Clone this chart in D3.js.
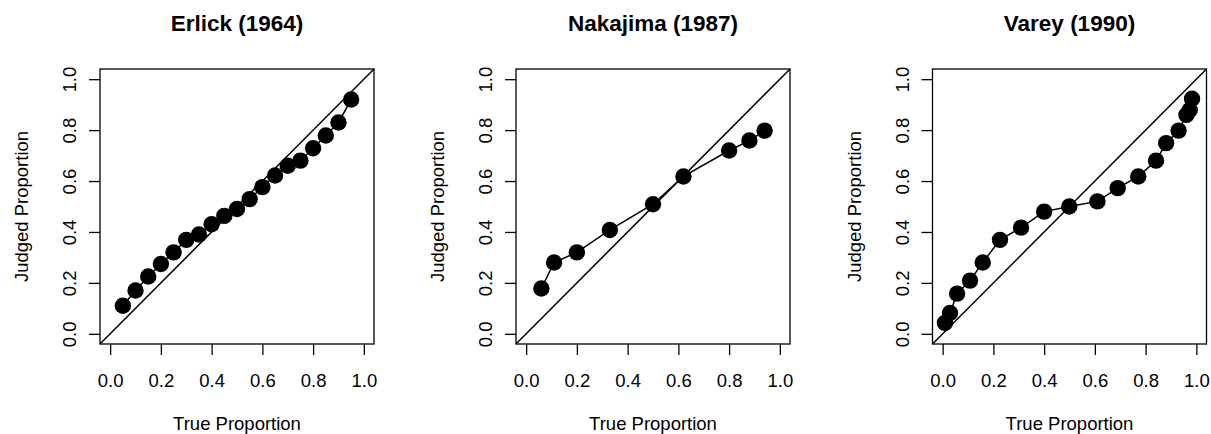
<!DOCTYPE html>
<html>
<head>
<meta charset="utf-8">
<script src="https://cdn.jsdelivr.net/npm/d3@7"></script>
<style>
  html, body { margin: 0; padding: 0; background: #fff; }
  svg { display: block; }
  text { font-family: "Liberation Sans", Arial, Helvetica, sans-serif; fill: #000; }
</style>
</head>
<body>
<svg id="chart" width="1211" height="434"></svg>
<script>
// Study titles
const titles = ["Erlick (1964)", "Nakajima (1987)", "Varey (1990)"];

// Erlick (1964)
const erlickTrue = [0.05, 0.10, 0.15, 0.20, 0.25, 0.30, 0.35, 0.40, 0.45, 0.50,
                    0.55, 0.60, 0.65, 0.70, 0.75, 0.80, 0.85, 0.90, 0.95];
const erlickJudged = [0.11, 0.17, 0.225, 0.274, 0.32, 0.369, 0.39, 0.43, 0.463, 0.49,
                      0.529, 0.576, 0.622, 0.66, 0.68, 0.729, 0.779, 0.83, 0.92];

// Nakajima (1987)
const nakajimaTrue = [0.06, 0.11, 0.20, 0.33, 0.50, 0.62, 0.80, 0.88, 0.94];
const nakajimaJudged = [0.178, 0.28, 0.32, 0.408, 0.509, 0.618, 0.72, 0.759, 0.798];

// Varey (1990)
const vareyTrue = [0.009, 0.029, 0.057, 0.108, 0.158, 0.226, 0.309, 0.40, 0.499,
                   0.61, 0.69, 0.771, 0.841, 0.881, 0.93, 0.961, 0.974, 0.983];
const vareyJudged = [0.043, 0.082, 0.158, 0.209, 0.28, 0.369, 0.417, 0.48, 0.50,
                     0.52, 0.572, 0.618, 0.68, 0.749, 0.798, 0.86, 0.879, 0.923];

// Axis ticks and labels
const tickValues = [0, 0.2, 0.4, 0.6, 0.8, 1.0];
const xLabel = "True Proportion";
const yLabel = "Judged Proportion";

const datasets = [
  { title: titles[0], x: erlickTrue, y: erlickJudged },
  { title: titles[1], x: nakajimaTrue, y: nakajimaJudged },
  { title: titles[2], x: vareyTrue, y: vareyJudged }
];

const svg = d3.select("#chart");
const panelLefts = [100, 516, 932.5];
const boxTop = 69, boxW = 274, boxH = 275;
const domain = [-0.04, 1.04];
const fmt = d3.format(".1f");
const labelSize = 18.5;

datasets.forEach((ds, i) => {
  const left = panelLefts[i];
  const x = d3.scaleLinear().domain(domain).range([left, left + boxW]);
  const y = d3.scaleLinear().domain(domain).range([boxTop + boxH, boxTop]);
  const g = svg.append("g");

  // plot frame
  g.append("rect")
    .attr("x", left).attr("y", boxTop)
    .attr("width", boxW).attr("height", boxH)
    .attr("fill", "none").attr("stroke", "#000").attr("stroke-width", 1.3);

  // x axis
  const xa = g.append("g")
    .attr("transform", `translate(0,${boxTop + boxH})`)
    .call(d3.axisBottom(x).tickValues(tickValues).tickFormat(fmt)
      .tickSize(11).tickSizeOuter(0).tickPadding(19));
  xa.select(".domain").remove();
  xa.selectAll(".tick line").attr("stroke", "#000").attr("stroke-width", 1.3);
  xa.selectAll(".tick text").attr("font-size", labelSize).attr("fill", "#000")
    .attr("font-family", "Liberation Sans, Arial, sans-serif");

  // y axis (labels rotated, as in base graphics)
  const ya = g.append("g")
    .attr("transform", `translate(${left},0)`)
    .call(d3.axisLeft(y).tickValues(tickValues).tickFormat(fmt)
      .tickSize(11).tickSizeOuter(0));
  ya.select(".domain").remove();
  ya.selectAll(".tick line").attr("stroke", "#000").attr("stroke-width", 1.3);
  ya.selectAll(".tick text")
    .attr("font-size", labelSize).attr("fill", "#000")
    .attr("font-family", "Liberation Sans, Arial, sans-serif")
    .attr("x", null).attr("dy", null)
    .attr("text-anchor", "middle")
    .attr("transform", "translate(-24,0) rotate(-90)");

  // identity line
  g.append("line")
    .attr("x1", x(domain[0])).attr("y1", y(domain[0]))
    .attr("x2", x(domain[1])).attr("y2", y(domain[1]))
    .attr("stroke", "#000").attr("stroke-width", 1.5);

  const pts = ds.x.map((v, k) => [v, ds.y[k]]);

  // connecting line
  g.append("path")
    .datum(pts)
    .attr("d", d3.line().x(d => x(d[0])).y(d => y(d[1])))
    .attr("fill", "none").attr("stroke", "#000").attr("stroke-width", 1.5);

  // points
  g.selectAll("circle.pt")
    .data(pts)
    .join("circle")
    .attr("class", "pt")
    .attr("cx", d => x(d[0])).attr("cy", d => y(d[1]))
    .attr("r", 8.2).attr("fill", "#000");

  // titles and axis labels
  g.append("text")
    .attr("x", left + boxW / 2).attr("y", 31)
    .attr("text-anchor", "middle")
    .attr("font-size", 22.5).attr("font-weight", "bold")
    .text(ds.title);

  g.append("text")
    .attr("x", left + boxW / 2).attr("y", 430)
    .attr("text-anchor", "middle")
    .attr("font-size", labelSize)
    .text(xLabel);

  g.append("text")
    .attr("transform", `translate(${left - 72},${boxTop + boxH / 2}) rotate(-90)`)
    .attr("text-anchor", "middle")
    .attr("font-size", labelSize)
    .text(yLabel);
});
</script>
</body>
</html>
